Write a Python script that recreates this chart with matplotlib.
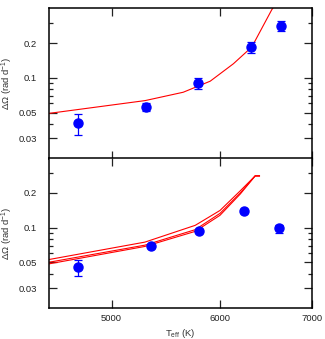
import numpy as np
import matplotlib
matplotlib.use("Agg")
import matplotlib.pyplot as plt
from matplotlib.ticker import FixedLocator, FixedFormatter, NullFormatter

plt.rcParams['font.family'] = ['Liberation Sans', 'DejaVu Sans']
plt.rcParams['mathtext.fontset'] = 'custom'
plt.rcParams['mathtext.rm'] = 'Liberation Sans'
plt.rcParams['mathtext.it'] = 'Liberation Sans:italic'

# top panel: observed points + one model curve
t_obs_top = [4727, 5294, 5779, 6323, 6651]
dw_top = [0.0403, 0.0563, 0.0910, 0.1848, 0.281]
dw_top_lo = [0.0319, 0.0520, 0.0807, 0.165, 0.253]
dw_top_hi = [0.0486, 0.0602, 0.100, 0.204, 0.310]

t_mod_top = [4500, 5290, 5640, 5902, 6137, 6330, 6547, 6620]
dw_mod_top = [0.0492, 0.0635, 0.075, 0.0935, 0.1324, 0.185, 0.39, 0.47]

# bottom panel: observed points + three model curves
t_obs_bot = [4722, 5342, 5796, 6252, 6631]
dw_bot = [0.0454, 0.0688, 0.0942, 0.1387, 0.100]
dw_bot_lo = [0.0378, 0.0675, 0.0925, 0.136, 0.0897]
dw_bot_hi = [0.0527, 0.0700, 0.0958, 0.141, 0.106]

t_mod_bot = [4500, 5288, 5755, 6000, 6209, 6366, 6412]
dw_mod_a = [0.0530, 0.0750, 0.1048, 0.141, 0.209, 0.281, 0.281]
dw_mod_b = [0.0502, 0.0706, 0.0961, 0.133, 0.200, 0.281, 0.281]
dw_mod_c = [0.0486, 0.0688, 0.0929, 0.128, 0.196, 0.281, 0.281]

xticks = [5000, 6000, 7000]
yticks = [0.03, 0.05, 0.1, 0.2]
yminor = [0.04, 0.06, 0.07, 0.08, 0.09, 0.3]

fig = plt.figure(figsize=(3.25, 3.39), dpi=100)
ax1 = fig.add_axes([0.1508, 0.5324, 0.808, 0.4431])
ax2 = fig.add_axes([0.1508, 0.0903, 0.808, 0.4431])


def style(ax, show_x):
    ax.set_xscale('log')
    ax.set_yscale('log')
    ax.set_xlim(4500, 7000)
    ax.set_ylim(0.02, 0.4)
    ax.xaxis.set_major_locator(FixedLocator(xticks))
    ax.xaxis.set_major_formatter(FixedFormatter([str(t) for t in xticks]))
    ax.xaxis.set_minor_locator(FixedLocator([]))
    ax.xaxis.set_minor_formatter(NullFormatter())
    ax.yaxis.set_major_locator(FixedLocator(yticks))
    ax.yaxis.set_major_formatter(FixedFormatter([str(v) for v in yticks]))
    ax.yaxis.set_minor_locator(FixedLocator(yminor))
    ax.yaxis.set_minor_formatter(NullFormatter())
    ax.tick_params(which='both', direction='in', top=True, right=True,
                   width=0.9, labelsize=6.8, colors='#222222')
    ax.tick_params(which='major', length=6)
    ax.tick_params(which='minor', length=3)
    ax.tick_params(axis='y', pad=9)
    ax.tick_params(axis='x', pad=4, labelbottom=show_x)
    for s in ax.spines.values():
        s.set_linewidth(1.1)
    ax.set_ylabel('ΔΩ (rad d$^{-1}$)', fontsize=6.8, color='#333333')
    ax.yaxis.set_label_coords(-0.128, 0.5)


style(ax1, False)
style(ax2, True)

ax1.plot(t_mod_top, dw_mod_top, color='red', lw=0.8)
e = [np.array(dw_top) - np.array(dw_top_lo), np.array(dw_top_hi) - np.array(dw_top)]
ax1.errorbar(t_obs_top, dw_top, yerr=e, fmt='o', color='blue', ms=6.5,
             elinewidth=0.9, capsize=2.9, capthick=0.9)

for d in (dw_mod_a, dw_mod_b, dw_mod_c):
    ax2.plot(t_mod_bot, d, color='red', lw=0.8)
e = [np.array(dw_bot) - np.array(dw_bot_lo), np.array(dw_bot_hi) - np.array(dw_bot)]
ax2.errorbar(t_obs_bot, dw_bot, yerr=e, fmt='o', color='blue', ms=6.5,
             elinewidth=0.9, capsize=2.9, capthick=0.9)

ax2.set_xlabel('T$_{\\rm eff}$ (K)', fontsize=6.8, color='#333333', labelpad=3)

fig.savefig('out.png', dpi=100)
